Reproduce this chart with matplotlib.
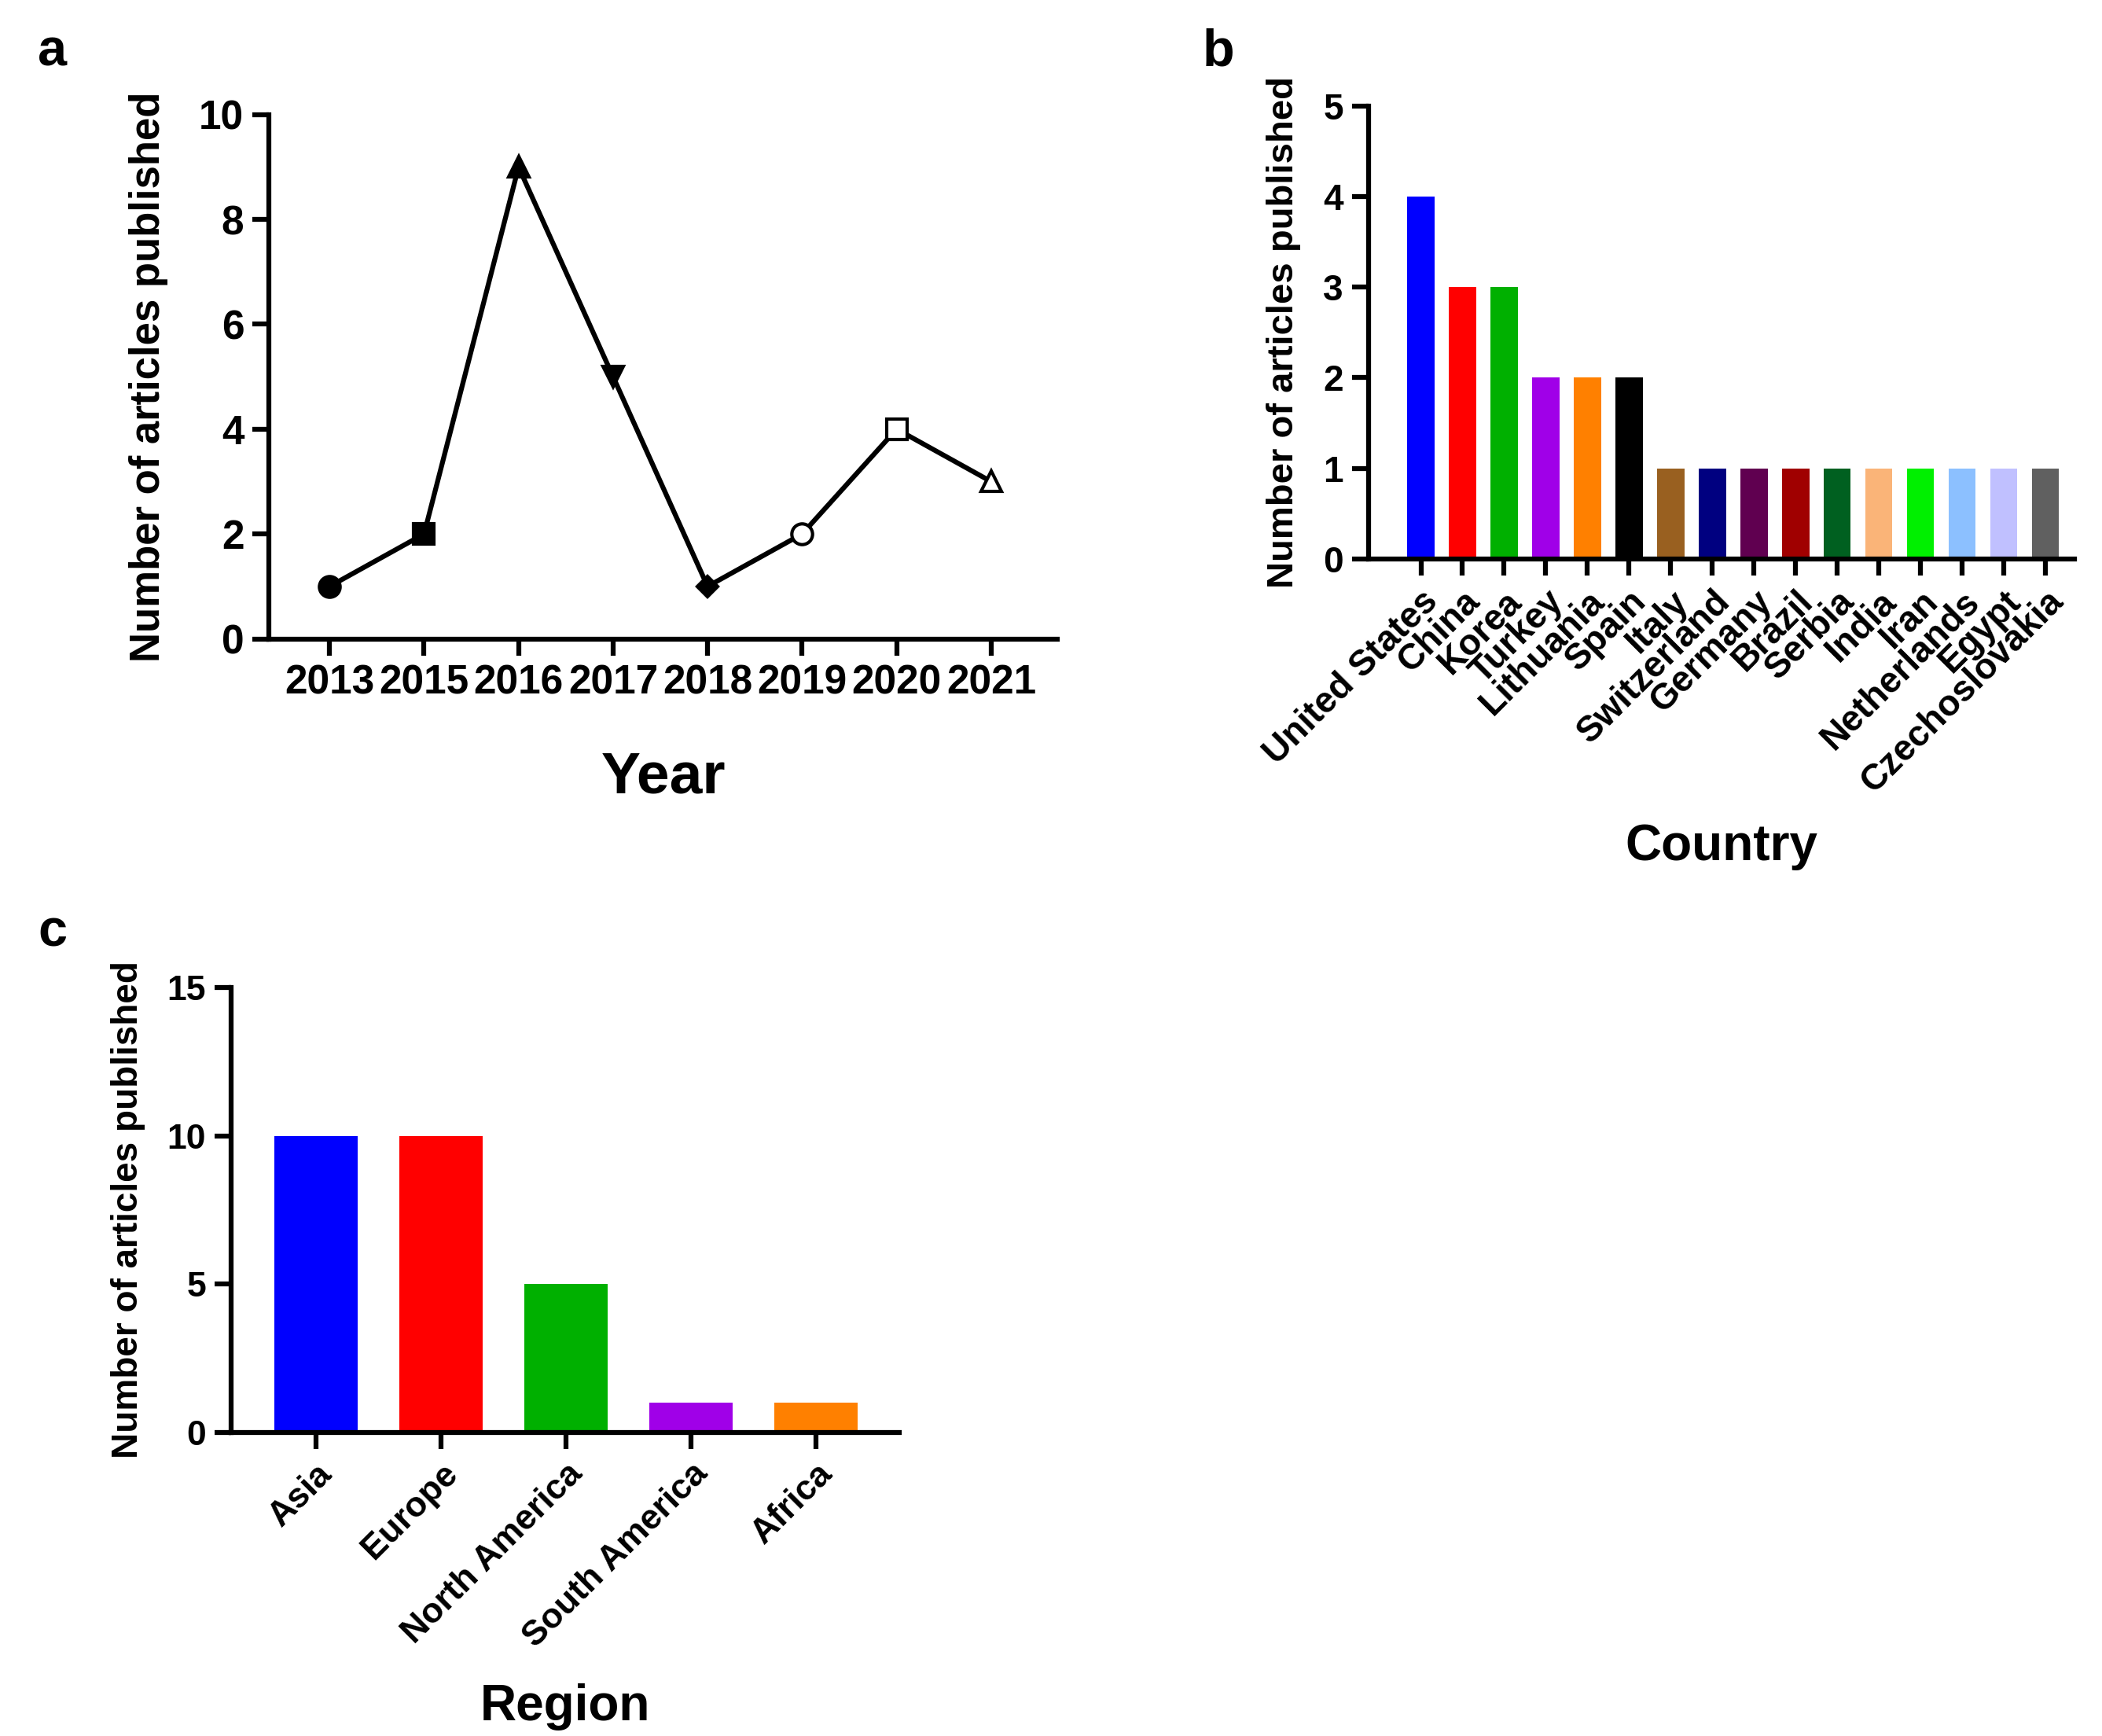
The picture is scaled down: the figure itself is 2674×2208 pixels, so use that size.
import matplotlib.pyplot as plt

plt.rcParams['font.family'] = 'Liberation Sans'
plt.rcParams['font.weight'] = 'bold'

years = ['2013', '2015', '2016', '2017', '2018', '2019', '2020', '2021']
year_counts = [1, 2, 9, 5, 1, 2, 4, 3]
year_markers = ['o', 's', '^', 'v', 'D', 'o', 's', '^']
year_filled = [True, True, True, True, True, False, False, False]

countries = ['United States', 'China', 'Korea', 'Turkey', 'Lithuania', 'Spain', 'Italy',
             'Switzerland', 'Germany', 'Brazil', 'Serbia', 'India', 'Iran', 'Netherlands',
             'Egypt', 'Czechoslovakia']
country_counts = [4, 3, 3, 2, 2, 2, 1, 1, 1, 1, 1, 1, 1, 1, 1, 1]
country_colors = ['#0000ff', '#ff0000', '#00b000', '#a000e8', '#ff8000', '#000000', '#996020',
                  '#000080', '#600050', '#a00000', '#006020', '#fab478', '#00f000', '#8cc0ff',
                  '#c0c0ff', '#606060']

regions = ['Asia', 'Europe', 'North America', 'South America', 'Africa']
region_counts = [10, 10, 5, 1, 1]
region_colors = ['#0000ff', '#ff0000', '#00b000', '#a000e8', '#ff8000']

fig = plt.figure(figsize=(26.74, 22.08), dpi=100)


def style(ax, size):
    for s in ['top', 'right']:
        ax.spines[s].set_visible(False)
    for s in ['left', 'bottom']:
        ax.spines[s].set_linewidth(4.5)
    ax.tick_params(width=4.5, length=15, labelsize=size, pad=8)
    for lab in ax.get_xticklabels() + ax.get_yticklabels():
        lab.set_fontweight('bold')


# panel a
ax = fig.add_axes([0.128, 0.632, 0.375, 0.302])
x = list(range(len(years)))
ax.plot(x, year_counts, color='black', lw=4.5, zorder=2)
for xi, yi, m, f in zip(x, year_counts, year_markers, year_filled):
    ax.plot(xi, yi, marker=m, ms=19 if m != 'D' else 13, color='black',
            mfc='black' if f else 'white', mew=3, zorder=3)
ax.set_xlim(-0.64, 7.7)
ax.set_ylim(0, 10)
ax.set_yticks([0, 2, 4, 6, 8, 10])
ax.set_xticks(x)
ax.set_xticklabels(years)
style(ax, 37)
ax.set_xlabel('Year', fontsize=54, fontweight='bold', labelpad=44)
ax.set_ylabel('Number of articles published', fontsize=38, fontweight='bold', labelpad=28)
fig.text(0.018, 0.962, 'a', fontsize=48, fontweight='bold')

# panel b
ax = fig.add_axes([0.651, 0.678, 0.336, 0.261])
xb = list(range(len(countries)))
ax.bar(xb, country_counts, width=0.65, color=country_colors)
ax.set_xlim(-1.26, 15.7)
ax.set_ylim(0, 5)
ax.set_yticks([0, 1, 2, 3, 4, 5])
ax.set_xticks(xb)
ax.set_xticklabels(countries, rotation=45, ha='right', rotation_mode='anchor')
style(ax, 33)
ax.set_xlabel('Country', fontsize=46, fontweight='bold', labelpad=21)
ax.set_ylabel('Number of articles published', fontsize=34, fontweight='bold', labelpad=20)
fig.text(0.572, 0.962, 'b', fontsize=48, fontweight='bold')

# panel c
ax = fig.add_axes([0.110, 0.175, 0.318, 0.256])
xc = list(range(len(regions)))
ax.bar(xc, region_counts, width=0.67, color=region_colors)
ax.set_xlim(-0.68, 4.67)
ax.set_ylim(0, 15)
ax.set_yticks([0, 5, 10, 15])
ax.set_xticks(xc)
ax.set_xticklabels(regions, rotation=45, ha='right', rotation_mode='anchor')
style(ax, 32)
ax.set_xlabel('Region', fontsize=46, fontweight='bold')
ax.xaxis.set_label_coords(0.5, -0.565)
ax.set_ylabel('Number of articles published', fontsize=33, fontweight='bold', labelpad=20)
fig.text(0.018, 0.455, 'c', fontsize=48, fontweight='bold')

fig.savefig('out.png', dpi=100, facecolor='white')
